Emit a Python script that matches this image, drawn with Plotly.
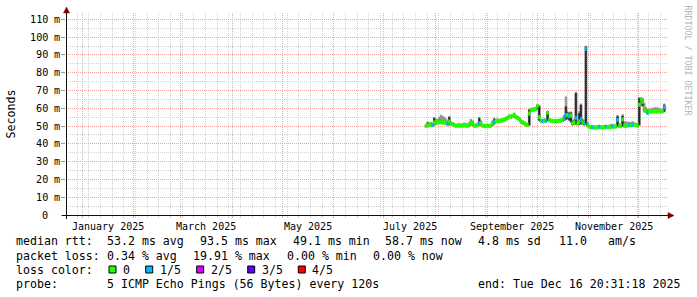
import plotly.graph_objects as go
import pandas as pd

# ---------------- data ----------------
series_start = "2025-07-25 20:31:18"          # first consolidated sample (one per day)
median_ms = [50.0, 50.2, 50.8, 51.0, 50.5, 52.0, 52.1, 52.1, 52.1, 52.1,
             52.1, 52.0, 51.8, 51.2, 52.5, 51.2, 51.0, 50.4, 50.2, 50.2,
             50.3, 50.2, 50.2, 50.4, 50.2, 50.2, 50.5, 51.9, 51.5, 50.2,
             50.2, 50.5, 51.5, 51.5, 50.2, 50.0, 50.0, 50.0, 50.0, 50.2,
             51.5, 52.4, 53.0, 53.0, 52.8, 53.0, 53.2, 53.5, 54.0, 54.5,
             55.3, 55.3, 55.5, 56.4, 55.0, 54.5, 54.0, 52.5, 51.9, 51.5,
             50.8, 50.6, 57.0, 59.0, 59.2, 59.4, 59.6, 61.3, 55.0, 53.0,
             52.8, 53.0, 53.0, 57.5, 53.4, 53.0, 52.8, 52.8, 52.6, 52.8,
             53.0, 53.0, 53.5, 54.3, 56.0, 56.2, 55.5, 56.0, 51.5, 52.0,
             54.5, 51.5, 52.5, 54.0, 52.0, 51.5, 93.5, 50.6, 49.6, 49.4,
             49.3, 49.2, 49.1, 49.3, 49.5, 49.3, 49.2, 49.4, 49.6, 49.5,
             49.4, 49.5, 49.8, 49.6, 49.8, 53.5, 50.2, 50.0, 53.8, 50.2,
             50.0, 50.3, 50.6, 50.5, 50.6, 50.8, 50.6, 50.3, 62.0, 65.0,
             63.5, 58.8, 58.5, 57.5, 58.2, 58.2, 58.3, 58.3, 58.2, 58.3,
             58.3, 58.2, 58.4, 60.5]
loss_of5 = [0, 0, 0, 0, 1, 0, 0, 0, 0, 0,
            0, 0, 0, 1, 0, 0, 0, 0, 0, 0,
            0, 0, 0, 0, 0, 0, 0, 0, 0, 0,
            0, 0, 1, 0, 0, 0, 0, 0, 0, 0,
            0, 1, 0, 0, 0, 0, 0, 0, 0, 0,
            0, 0, 0, 0, 0, 0, 0, 0, 0, 0,
            0, 0, 0, 0, 0, 0, 0, 0, 0, 0,
            1, 0, 1, 0, 0, 0, 0, 0, 0, 0,
            0, 0, 0, 1, 1, 0, 1, 0, 0, 0,
            1, 0, 0, 1, 0, 1, 1, 0, 0, 0,
            1, 0, 0, 0, 1, 0, 0, 0, 1, 0,
            0, 0, 1, 0, 0, 1, 0, 0, 0, 0,
            0, 0, 1, 0, 1, 0, 0, 0, 0, 0,
            0, 0, 0, 1, 0, 0, 0, 0, 0, 0,
            0, 0, 0, 1]
smoke_min = [49.6, 49.7, 50.0, 50.0, 49.8, 50.5, 51.0, 51.2, 51.2, 51.3,
             51.2, 51.2, 51.0, 50.5, 50.8, 50.5, 50.3, 50.0, 49.8, 49.8,
             49.8, 49.8, 49.8, 49.9, 49.8, 49.8, 50.0, 50.5, 50.3, 49.8,
             49.8, 50.0, 50.2, 50.3, 49.8, 49.7, 49.7, 49.7, 49.7, 49.8,
             50.2, 51.0, 52.2, 52.2, 52.0, 52.2, 52.5, 52.8, 53.2, 53.8,
             54.5, 54.5, 54.8, 55.5, 54.2, 53.8, 53.0, 51.8, 51.2, 50.8,
             50.2, 50.0, 50.3, 58.2, 58.5, 58.6, 58.8, 59.5, 53.0, 52.3,
             52.0, 52.3, 52.3, 53.0, 52.7, 52.3, 52.1, 52.1, 51.9, 52.1,
             52.3, 52.3, 52.7, 53.0, 53.5, 54.0, 53.0, 52.0, 50.5, 50.8,
             51.0, 50.5, 50.8, 51.0, 50.8, 50.5, 50.8, 49.5, 49.0, 48.8,
             48.8, 48.7, 48.6, 48.8, 48.9, 48.8, 48.7, 48.8, 49.0, 48.9,
             48.8, 48.9, 49.1, 49.0, 49.1, 49.5, 49.5, 49.4, 49.8, 49.6,
             49.5, 49.7, 49.9, 49.8, 49.9, 50.1, 49.9, 49.7, 50.3, 63.5,
             61.0, 58.0, 57.8, 56.8, 57.5, 57.5, 57.6, 57.6, 57.5, 57.6,
             57.6, 57.5, 57.7, 58.0]
smoke_max = [50.8, 52.4, 52.0, 52.0, 51.5, 54.8, 53.5, 54.0, 55.0, 56.2,
             55.5, 55.0, 54.0, 53.0, 55.5, 52.5, 52.0, 51.5, 51.2, 51.0,
             51.5, 51.2, 51.0, 51.8, 51.5, 51.2, 52.0, 53.8, 53.0, 51.2,
             51.0, 51.8, 55.0, 53.0, 51.0, 50.8, 50.8, 51.0, 50.8, 51.0,
             53.0, 54.5, 54.0, 53.8, 53.8, 54.0, 54.2, 54.5, 55.0, 55.5,
             56.2, 56.0, 56.5, 57.2, 56.0, 55.5, 55.0, 53.5, 53.0, 52.5,
             51.8, 51.5, 59.5, 60.0, 60.0, 60.2, 60.5, 62.0, 61.5, 53.8,
             53.8, 54.0, 54.0, 58.5, 54.3, 53.8, 53.6, 53.6, 53.4, 53.6,
             53.8, 54.0, 54.5, 56.0, 66.5, 58.0, 57.5, 58.0, 53.0, 54.0,
             69.0, 53.0, 58.0, 62.5, 54.0, 53.5, 95.0, 52.0, 50.5, 50.2,
             50.2, 50.0, 49.9, 50.2, 50.5, 50.2, 50.0, 50.3, 50.5, 50.4,
             50.5, 51.0, 51.0, 50.6, 51.0, 56.0, 51.5, 51.0, 56.5, 52.5,
             52.5, 52.0, 52.3, 52.0, 52.5, 51.8, 51.5, 51.2, 66.0, 66.0,
             65.6, 63.0, 60.5, 59.5, 59.5, 59.8, 60.0, 60.3, 60.5, 60.2,
             60.0, 59.5, 59.5, 62.5]
core_lo = [49.8, 49.9, 50.2, 50.2, 50.0, 50.8, 51.4, 51.5, 51.5, 51.6,
           51.5, 51.5, 51.3, 50.8, 51.0, 50.8, 50.6, 50.1, 50.0, 50.0,
           50.0, 50.0, 50.0, 50.1, 50.0, 50.0, 50.2, 50.8, 50.6, 50.0,
           50.0, 50.2, 50.5, 50.6, 50.0, 49.8, 49.8, 49.8, 49.8, 50.0,
           50.5, 51.3, 52.5, 52.5, 52.3, 52.5, 52.7, 53.0, 53.5, 54.0,
           54.8, 54.8, 55.0, 55.8, 54.5, 54.0, 53.3, 52.0, 51.5, 51.0,
           50.4, 50.2, 50.6, 58.5, 58.8, 58.9, 59.1, 59.8, 53.2, 52.5,
           52.3, 52.5, 52.5, 53.2, 53.0, 52.5, 52.3, 52.3, 52.1, 52.3,
           52.5, 52.5, 53.0, 53.3, 53.8, 54.5, 53.5, 52.5, 50.8, 51.0,
           51.3, 50.8, 51.0, 51.3, 51.0, 50.8, 51.0, 49.8, 49.2, 49.0,
           49.0, 48.9, 48.8, 49.0, 49.1, 49.0, 48.9, 49.0, 49.2, 49.1,
           49.0, 49.1, 49.3, 49.2, 49.3, 49.8, 49.7, 49.6, 50.0, 49.8,
           49.7, 49.9, 50.1, 50.0, 50.1, 50.3, 50.1, 49.9, 50.6, 64.0,
           61.5, 58.2, 58.0, 57.0, 57.8, 57.8, 57.9, 57.9, 57.8, 57.9,
           57.9, 57.8, 58.0, 58.3]
core_hi = [50.3, 51.5, 51.2, 51.8, 51.0, 54.3, 52.8, 52.6, 52.8, 53.0,
           52.8, 52.6, 52.4, 51.8, 54.9, 51.8, 51.5, 50.8, 50.6, 50.6,
           50.7, 50.6, 50.6, 50.8, 50.6, 50.6, 51.0, 52.8, 52.2, 50.6,
           50.6, 51.0, 54.3, 52.4, 50.6, 50.4, 50.4, 50.4, 50.4, 50.6,
           52.2, 53.8, 53.5, 53.4, 53.3, 53.4, 53.6, 54.0, 54.5, 55.0,
           55.8, 55.8, 56.0, 56.8, 55.6, 55.0, 54.5, 53.0, 52.4, 52.0,
           51.3, 51.0, 59.0, 59.5, 59.6, 59.8, 60.0, 61.8, 61.0, 53.5,
           53.3, 53.5, 53.5, 58.0, 53.9, 53.5, 53.3, 53.3, 53.1, 53.3,
           53.5, 53.5, 54.0, 55.5, 60.9, 57.5, 57.0, 57.5, 52.5, 53.0,
           68.4, 52.5, 57.0, 61.8, 53.0, 52.5, 94.6, 51.5, 50.2, 50.0,
           49.8, 49.7, 49.6, 49.8, 50.0, 49.8, 49.7, 49.9, 50.1, 50.0,
           49.9, 50.0, 50.3, 50.1, 50.3, 55.3, 50.8, 50.5, 55.6, 51.0,
           50.6, 50.8, 51.2, 51.0, 51.2, 51.3, 51.1, 50.8, 65.6, 65.6,
           64.5, 59.5, 59.2, 58.2, 58.7, 58.7, 58.8, 58.8, 58.7, 58.8,
           58.8, 58.7, 58.9, 61.8]

loss_labels = ["0", "1/5", "2/5", "3/5", "4/5"]
loss_colors = ["#26ff00", "#00b8ff", "#dd00ff", "#5e00ff", "#ff0000"]

month_labels = ["January 2025", "March 2025", "May 2025", "July 2025",
                "September 2025", "November 2025"]
month_label_dates = ["2025-01-16 12:00", "2025-03-16 12:00", "2025-05-16 12:00",
                     "2025-07-16 12:00", "2025-09-16 00:00", "2025-11-16 00:00"]

y_tick_vals = [0, 10, 20, 30, 40, 50, 60, 70, 80, 90, 100, 110]
y_tick_nums = ["0", "10", "20", "30", "40", "50", "60", "70", "80", "90", "100", "110"]

legend_rows = [
    [("median rtt:", 16), ("53.2 ms avg", 107.3), ("93.5 ms max", 200),
     ("49.1 ms min", 292.7), ("58.7 ms now", 385), ("4.8 ms sd", 478.5),
     ("11.0", 559), ("am/s", 607.7)],
    [("packet loss:", 16), ("0.34 % avg", 107.3), ("19.91 % max", 193.3),
     ("0.00 % min", 286.5), ("0.00 % now", 373)],
    [("loss color:", 16)],
    [("probe:", 16), ("5 ICMP Echo Pings (56 Bytes) every 120s", 107.3),
     ("end: Tue Dec 16 20:31:18 2025", 478.3)],
]
loss_box_x = [109, 145.7, 196.7, 247.7, 298.3]
loss_text_x = [123.3, 160, 211, 261.7, 312.3]

# ---------------- geometry ----------------
W, H = 697, 297
L, T, PW, PH = 66, 13, 601, 202
X_START = pd.Timestamp("2025-01-01") - pd.Timedelta(days=16 / (600 / 360))
X_END = X_START + pd.Timedelta(days=PW / (600 / 360))
Y_MAX = PH / 1.7788

def px(x):
    return (x - L) / PW

def py(y):
    return (T + PH - y) / PH

MONO = "DejaVu Sans Mono"
DAY_MS = 86400000

days = pd.date_range(series_start, periods=len(median_ms), freq="D")

fig = go.Figure()

# outer smoke (min..max)
fig.add_trace(go.Bar(
    x=days, base=smoke_min, y=[hi - lo for lo, hi in zip(smoke_min, smoke_max)],
    width=DAY_MS, offset=0, marker=dict(color="#919191", line=dict(width=0.6, color="#919191")),
    hoverinfo="skip", showlegend=False))
# inner smoke
fig.add_trace(go.Bar(
    x=days, base=core_lo, y=[hi - lo for lo, hi in zip(core_lo, core_hi)],
    width=DAY_MS, offset=0, marker=dict(color="#2a2a2a", line=dict(width=0.6, color="#2a2a2a")),
    hoverinfo="skip", showlegend=False))
# median coloured by loss
MED_H = 2.0
med_cols = [loss_colors[l] for l in loss_of5]
fig.add_trace(go.Bar(
    x=days, base=[m - MED_H / 2 for m in median_ms], y=[MED_H] * len(median_ms),
    width=DAY_MS, offset=0, marker=dict(color=med_cols, line=dict(width=0.6, color=med_cols)),
    hoverinfo="skip", showlegend=False))

GRID = "#d2d2d2"
MGRID = "#f3a3a3"

fig.update_layout(
    width=W, height=H, autosize=False,
    margin=dict(l=L, r=W - L - PW, t=T, b=H - T - PH, pad=0),
    paper_bgcolor="white", plot_bgcolor="white",
    barmode="overlay", bargap=0, showlegend=False,
    font=dict(family=MONO, size=10, color="black"),
    xaxis=dict(type="date", range=[X_START, X_END], showticklabels=False,
               tick0="2025-01-01", dtick="M1", showgrid=True, gridcolor=MGRID,
               griddash="1px,1px", gridwidth=1, ticks="outside", ticklen=2, tickcolor=MGRID,
               minor=dict(tick0="2024-12-29", dtick=7 * DAY_MS, showgrid=True,
                          gridcolor=GRID, griddash="1px,1px", ticks="outside",
                          ticklen=2, tickcolor=GRID),
               showline=False, zeroline=False, fixedrange=True),
    yaxis=dict(range=[0, Y_MAX], showticklabels=False, tickvals=y_tick_vals,
               showgrid=True, gridcolor=MGRID, griddash="1px,1px",
               ticks="outside", ticklen=4, tickcolor="#9a9a9a",
               minor=dict(dtick=5, showgrid=True, gridcolor=GRID, griddash="1px,1px"),
               showline=False, zeroline=False, fixedrange=True),
)

ann = []
shapes = []

# y tick labels
for v, t in zip(y_tick_vals, y_tick_nums):
    ann.append(dict(x=px(47.5), y=v, xref="paper", yref="y", text=t, showarrow=False,
                    xanchor="right", yanchor="middle", font=dict(family=MONO, size=10.2),
                    borderpad=0, borderwidth=0))
    if v != 0:
        ann.append(dict(x=px(53.5), y=v, xref="paper", yref="y", text="m", showarrow=False,
                        xanchor="left", yanchor="middle", font=dict(family=MONO, size=10.2),
                        borderpad=0, borderwidth=0))

# month labels
for t, d in zip(month_labels, month_label_dates):
    ann.append(dict(x=d, y=py(226), xref="x", yref="paper", text=t, showarrow=False,
                    xanchor="center", yanchor="middle", font=dict(family=MONO, size=10),
                    borderpad=0, borderwidth=0))

# axis title and watermark
ann.append(dict(x=px(10.5), y=py(114), xref="paper", yref="paper", text="Seconds",
                showarrow=False, textangle=-90, xanchor="center", yanchor="middle",
                font=dict(family=MONO, size=11.6)))
ann.append(dict(x=px(687.5), y=py(60), xref="paper", yref="paper", text="RRDTOOL / TOBI OETIKER",
                showarrow=False, textangle=90, xanchor="center", yanchor="middle",
                font=dict(family=MONO, size=8.3, color="#b4b4b4")))

# legend
row_y = [241.5, 255.5, 269.5, 283.5]
for r, items in enumerate(legend_rows):
    for t, x in items:
        ann.append(dict(x=px(x), y=py(row_y[r]), xref="paper", yref="paper", text=t,
                        showarrow=False, xanchor="left", yanchor="middle",
                        font=dict(family=MONO, size=11.6), borderpad=0, borderwidth=0))
for bx, tx, lab, col in zip(loss_box_x, loss_text_x, loss_labels, loss_colors):
    shapes.append(dict(type="rect", xref="paper", yref="paper",
                       x0=px(bx), x1=px(bx + 7), y0=py(row_y[2] + 3.5), y1=py(row_y[2] - 3.5),
                       fillcolor=col, line=dict(color="black", width=1)))
    ann.append(dict(x=px(tx), y=py(row_y[2]), xref="paper", yref="paper", text=lab,
                    showarrow=False, xanchor="left", yanchor="middle",
                    font=dict(family=MONO, size=11.6), borderpad=0, borderwidth=0))

# axes with arrows (rrdtool style)
AX = "#101010"
ARROW = "#7f0000"
shapes.append(dict(type="line", xref="paper", yref="paper", x0=px(62), x1=px(669),
                   y0=py(215.5), y1=py(215.5), line=dict(color=AX, width=1)))
shapes.append(dict(type="line", xref="paper", yref="paper", x0=px(66.5), x1=px(66.5),
                   y0=py(219), y1=py(11), line=dict(color=AX, width=1)))
shapes.append(dict(type="path", xref="paper", yref="paper",
                   path=f"M {px(668)},{py(212.5)} L {px(674)},{py(215.5)} L {px(668)},{py(218.5)} Z",
                   fillcolor=ARROW, line=dict(color=ARROW, width=0.5)))
shapes.append(dict(type="path", xref="paper", yref="paper",
                   path=f"M {px(63.5)},{py(13)} L {px(66.5)},{py(7)} L {px(69.5)},{py(13)} Z",
                   fillcolor=ARROW, line=dict(color=ARROW, width=0.5)))

fig.update_layout(annotations=ann, shapes=shapes)
fig.write_html("out.html", config={"displayModeBar": False, "staticPlot": True})
